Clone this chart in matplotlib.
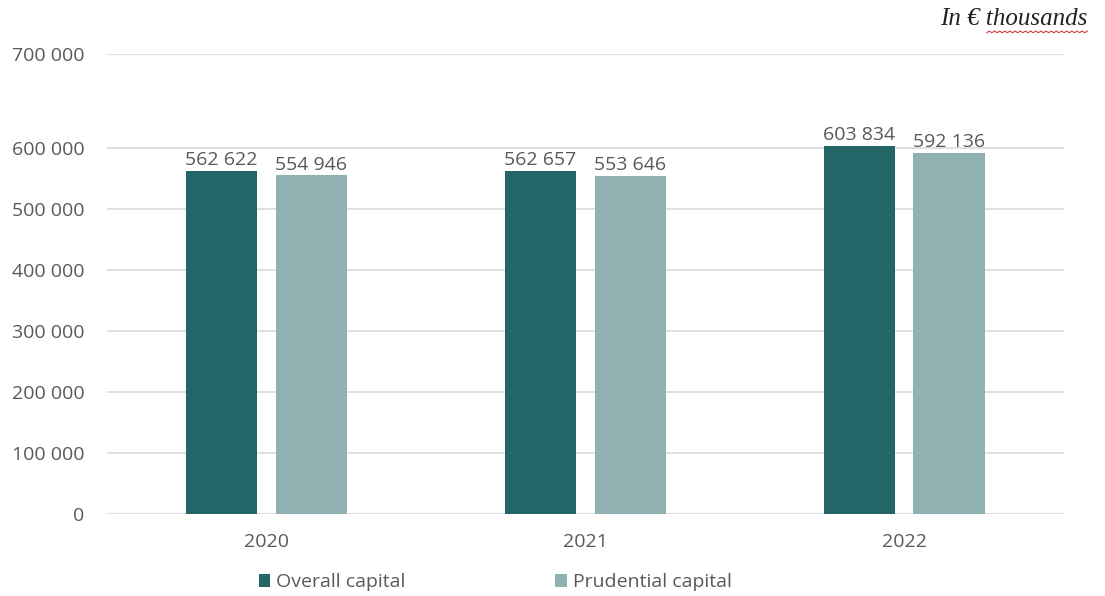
import numpy as np
import matplotlib
matplotlib.use("Agg")
from matplotlib import pyplot as plt
from matplotlib.lines import Line2D

years = ['2020', '2021', '2022']
overall = [562622, 562657, 603834]
prudential = [554946, 553646, 592136]
# the reference puts the 700 000 gridline higher than a linear scale would
ytick_vals = [0, 100000, 200000, 300000, 400000, 500000, 600000, 754000]
ytick_labels = ['0', '100 000', '200 000', '300 000', '400 000', '500 000', '600 000', '700 000']

dark = '#246668'
light = '#8fb1b2'
grey = '#595959'

plt.rcParams['font.family'] = ['Open Sans', 'DejaVu Sans']

fig = plt.figure(figsize=(11.05, 5.96), dpi=100)
ax = fig.add_axes([0.0968, 0.1376, 0.866, 0.7718])

x = np.arange(len(years))
w = 0.225
off = 0.141
b1 = ax.bar(x - off, overall, w, color=dark, label='Overall capital', zorder=3)
b2 = ax.bar(x + off, prudential, w, color=light, label='Prudential capital', zorder=3)

def fmt(v):
    return '{:,}'.format(v).replace(',', ' ')

for bars, vals in [(b1, overall), (b2, prudential)]:
    for r, v in zip(bars, vals):
        ax.text(r.get_x() + r.get_width() / 2, v + 3000, fmt(v), ha='center', va='bottom',
                fontsize=14, color=grey)

ax.set_xlim(-0.5, 2.5)
ax.set_ylim(0, 754000)
ax.set_yticks(ytick_vals)
ax.set_yticklabels(ytick_labels)
ax.set_xticks(x)
ax.set_xticklabels(years)
ax.tick_params(axis='y', length=0, pad=16, labelsize=14, labelcolor=grey)
ax.tick_params(axis='x', length=0, pad=14, labelsize=14, labelcolor=grey)
ax.grid(axis='y', color='#d9d9d9', linewidth=1.2, zorder=0)
for s in ax.spines.values():
    s.set_visible(False)

fig.text(0.984, 0.968, 'In € thousands', ha='right', va='center', fontsize=18,
         family=['Liberation Serif', 'DejaVu Serif'], style='italic', color='#222222')
# spell-check squiggle under "thousands"
zx = np.linspace(0.893, 0.984, 40)
zy = 0.945 + 0.003 * (np.arange(40) % 2)
fig.add_artist(Line2D(zx, zy, color='#d04040', linewidth=0.8, transform=fig.transFigure))

fig.legend(handles=[b1, b2], loc='center', bbox_to_anchor=(0.448, 0.023), ncol=2,
           frameon=False, fontsize=14, labelcolor=grey, handlelength=0.6, handleheight=0.6,
           handletextpad=0.3, columnspacing=7.7)

fig.savefig('out.png', dpi=100)
